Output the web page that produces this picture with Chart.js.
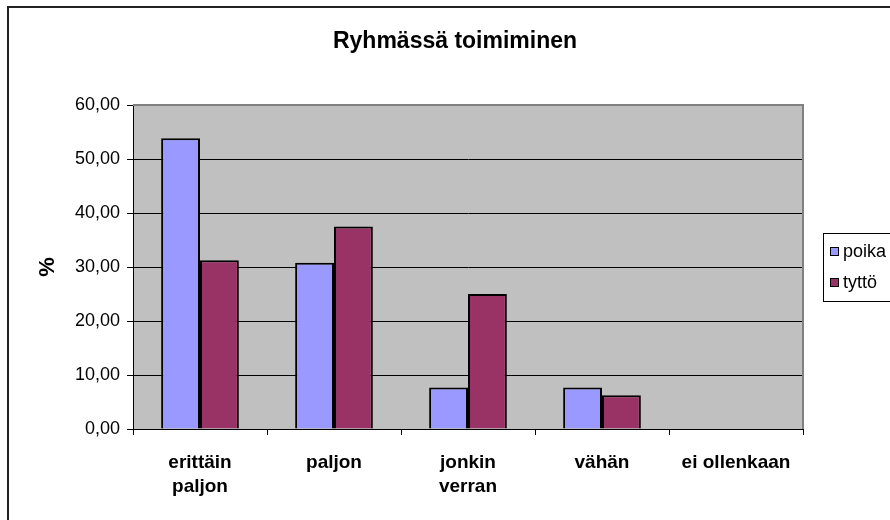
<!DOCTYPE html>
<html lang="fi">
<head>
    <meta charset="UTF-8">
    <title>Ryhmässä toimiminen</title>
    <script src="https://cdn.jsdelivr.net/npm/chart.js"></script>
    <style>
        html, body {
            margin: 0;
            padding: 0;
            background: #ffffff;
        }
        #wrap {
            width: 890px;
            height: 520px;
        }
    </style>
</head>
<body>
    <div id="wrap"><canvas id="chart" width="890" height="520"></canvas></div>

    <script>
        const chartTitle = "Ryhmässä toimiminen";
        const categories = [["erittäin", "paljon"], "paljon", ["jonkin", "verran"], "vähän", "ei ollenkaan"];
        const seriesNames = ["poika", "tyttö"];
        const poikaValues = [53.85, 30.77, 7.69, 7.69, 0];
        const tyttoValues = [31.25, 37.5, 25.0, 6.25, 0];
        const yTicks = [0, 10, 20, 30, 40, 50, 60];
        const colors = ["#9999ff", "#993366"];

        const FONT = "'Liberation Sans', Arial, sans-serif";

        // plot background, frame, title and legend like in the Excel chart
        const excelLook = {
            id: "excelLook",
            beforeDraw(chart) {
                const ctx = chart.ctx;
                const a = chart.chartArea;
                ctx.save();
                ctx.fillStyle = "#ffffff";
                ctx.fillRect(0, 0, chart.width, chart.height);
                ctx.fillStyle = "#c0c0c0";
                ctx.fillRect(a.left, a.top, a.right - a.left, a.bottom - a.top);
                ctx.restore();
            },
            afterDraw(chart) {
                const ctx = chart.ctx;
                const a = chart.chartArea;
                ctx.save();

                // grey border of the plot area (top and right)
                ctx.strokeStyle = "#808080";
                ctx.lineWidth = 2;
                ctx.beginPath();
                ctx.moveTo(a.left, a.top);
                ctx.lineTo(a.right, a.top);
                ctx.lineTo(a.right, a.bottom);
                ctx.stroke();

                // outer frame, cut off at right and bottom
                ctx.strokeStyle = "#222222";
                ctx.lineWidth = 2;
                ctx.beginPath();
                ctx.moveTo(8, 530);
                ctx.lineTo(8, 7);
                ctx.lineTo(900, 7);
                ctx.stroke();

                // title
                ctx.fillStyle = "#000000";
                ctx.font = "bold 23px " + FONT;
                ctx.textAlign = "center";
                ctx.textBaseline = "middle";
                ctx.fillText(chartTitle, 455, 42);

                // legend
                ctx.strokeStyle = "#000000";
                ctx.lineWidth = 1;
                ctx.strokeRect(823.5, 233.5, 90, 68);
                ctx.font = "18px " + FONT;
                ctx.textAlign = "left";
                const ys = [252, 283];
                chart.data.datasets.forEach((ds, i) => {
                    ctx.fillStyle = ds.backgroundColor;
                    ctx.fillRect(830, ys[i] - 5, 9, 9);
                    ctx.strokeRect(830.5, ys[i] - 4.5, 8, 8);
                    ctx.fillStyle = "#000000";
                    ctx.fillText(ds.label, 843, ys[i]);
                });
                ctx.restore();
            }
        };

        new Chart(document.getElementById("chart"), {
            type: "bar",
            data: {
                labels: categories,
                datasets: [
                    {
                        label: seriesNames[0],
                        data: poikaValues,
                        backgroundColor: colors[0],
                        borderColor: "#000000",
                        borderWidth: 2
                    },
                    {
                        label: seriesNames[1],
                        data: tyttoValues,
                        backgroundColor: colors[1],
                        borderColor: "#000000",
                        borderWidth: 2
                    }
                ]
            },
            options: {
                responsive: false,
                animation: false,
                layout: {
                    padding: { top: 105, left: 9, right: 87, bottom: 0 }
                },
                datasets: {
                    bar: {
                        categoryPercentage: 0.58,
                        barPercentage: 1
                    }
                },
                plugins: {
                    legend: { display: false },
                    title: { display: false },
                    tooltip: { enabled: false }
                },
                scales: {
                    x: {
                        offset: true,
                        grid: {
                            offset: true,
                            drawOnChartArea: false,
                            drawTicks: true,
                            tickLength: 6,
                            color: "#000000"
                        },
                        border: { color: "#000000", width: 1 },
                        ticks: {
                            color: "#000000",
                            padding: 15,
                            maxRotation: 0,
                            autoSkip: false,
                            font: { family: FONT, size: 19, weight: "bold", lineHeight: 1.3 }
                        },
                        afterFit(scale) { scale.height = 91; }
                    },
                    y: {
                        min: yTicks[0],
                        max: yTicks[yTicks.length - 1],
                        afterBuildTicks(scale) {
                            scale.ticks = yTicks.map(v => ({ value: v }));
                        },
                        grid: {
                            color: "#000000",
                            lineWidth: 1,
                            drawTicks: true,
                            tickLength: 6
                        },
                        border: { color: "#000000", width: 1 },
                        ticks: {
                            color: "#000000",
                            padding: 7,
                            font: { family: FONT, size: 18 },
                            callback: v => v.toFixed(2).replace(".", ",")
                        },
                        title: {
                            display: true,
                            text: "%",
                            color: "#000000",
                            padding: { top: 26, bottom: 0 },
                            font: { family: FONT, size: 22, weight: "bold" }
                        },
                        afterFit(scale) { scale.width = 124; }
                    }
                }
            },
            plugins: [excelLook]
        });
    </script>
</body>
</html>
